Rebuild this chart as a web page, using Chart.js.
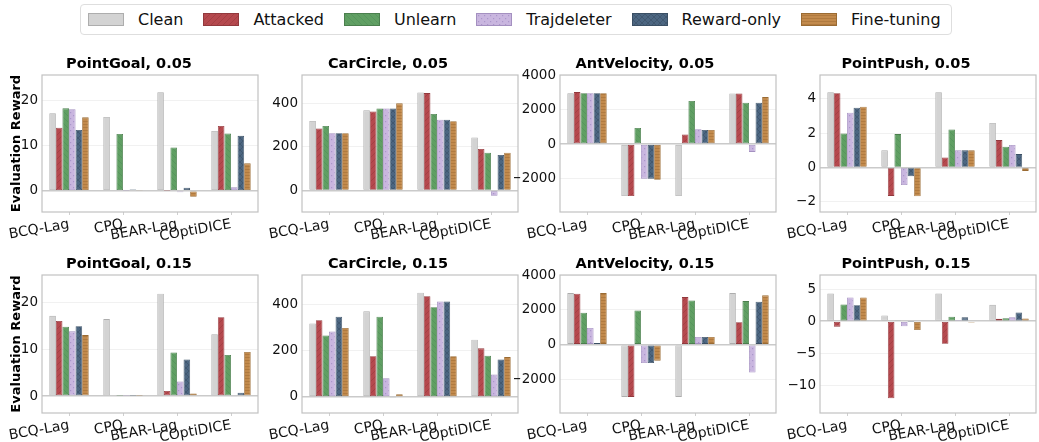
<!DOCTYPE html>
<html>
<head>
<meta charset="utf-8">
<script src="https://cdn.jsdelivr.net/npm/chart.js@4.4.1/dist/chart.umd.min.js"></script>
<style>
  html, body { margin: 0; padding: 0; background: #fff; }
  body { width: 1039px; height: 442px; position: relative; overflow: hidden; font-family: "DejaVu Sans", sans-serif; }
  canvas.panel { position: absolute; }
  #legend {
    position: absolute; left: 80px; top: 4px; width: 872px; height: 31px;
    box-sizing: border-box; border: 1px solid #dedede; border-radius: 4px;
    display: flex; align-items: center; padding-left: 7px; gap: 20px;
    font-size: 16px; color: #111;
  }
  #legend .item { display: flex; align-items: center; }
  #legend .sw { width: 36px; height: 13px; margin-right: 14px; box-sizing: border-box; }
</style>
</head>
<body>
<div id="legend"></div>
<script>
const categories = ["BCQ-Lag", "CPQ", "BEAR-Lag", "COptiDICE"];
const methods = ["Clean", "Attacked", "Unlearn", "Trajdeleter", "Reward-only", "Fine-tuning"];

// rows: Clean, Attacked, Unlearn, Trajdeleter, Reward-only, Fine-tuning
const pointGoal005 = [
  [17.2, 16.4, 21.9, 13.3],
  [14.0, 0.2, 0.05, 14.4],
  [18.3, 12.6, 9.6, 12.7],
  [18.1, 0.05, -0.3, 0.8],
  [13.5, 0.3, 0.7, 12.2],
  [16.3, 0.1, -1.3, 6.1],
];
const carCircle005 = [
  [319, 368, 450, 244],
  [285, 363, 447, 191],
  [296, 377, 351, 174],
  [263, 377, 325, -24],
  [263, 377, 325, 163],
  [263, 400, 318, 174],
];
const antVelocity005 = [
  [2950, -3000, -3000, 2930],
  [3010, -3000, 560, 2930],
  [2950, 930, 2500, 2400],
  [2950, -2000, 860, -450],
  [2950, -2000, 815, 2400],
  [2950, -2070, 815, 2720],
];
const pointPush005 = [
  [4.39, 1.0, 4.39, 2.6],
  [4.33, -1.66, 0.58, 1.6],
  [1.99, 1.95, 2.22, 1.21],
  [3.2, -1.03, 1.0, 1.31],
  [3.49, -0.51, 1.0, 0.78],
  [3.55, -1.68, 1.0, -0.2],
];
const pointGoal015 = [
  [17.1, 16.4, 21.8, 13.2],
  [16.0, 0.2, 1.1, 16.8],
  [14.8, 0.05, 9.3, 8.75],
  [13.8, 0.05, 3.1, -0.2],
  [14.9, 0.05, 7.8, 0.7],
  [13.0, 0.05, 0.57, 9.4],
];
const carCircle015 = [
  [319, 372, 453, 249],
  [333, 177, 438, 211],
  [267, 349, 390, 179],
  [284, 81, 415, 97],
  [349, -3, 415, 163],
  [300, 12, 177, 173],
];
const antVelocity015 = [
  [2960, -3000, -3000, 2960],
  [2920, -3000, 2730, 1290],
  [1830, 1960, 2540, 2500],
  [960, -1060, 440, -1600],
  [100, -1060, 440, 2460],
  [2960, -920, 440, 2830],
];
const pointPush015 = [
  [4.3, 0.9, 4.3, 2.55],
  [-0.85, -12.0, -3.5, 0.37],
  [2.6, 0.15, 0.7, 0.47],
  [3.7, -0.8, 0.2, 0.63],
  [2.5, -0.05, 0.6, 1.37],
  [3.7, -1.37, -0.2, 0.42],
];

const pointGoalTicks = [0, 10, 20];
const carCircleTicks = [0, 200, 400];
const antVelocityTicks = [-2000, 0, 2000, 4000];
const pointPush005Ticks = [-2, 0, 2, 4];
const pointPush015Ticks = [-10, -5, 0, 5];

const fills = ["#d3d3d3", "#b5494e", "#609f63", "#c9b6df", "#4c6681", "#c28a4c"];
const edges = ["#adadad", "#92393d", "#4b7f4e", "#a490c0", "#3a4f64", "#9a6b33"];
const inks = [null, "#9c3c41", "#52905a", "#ab96ca", "#3c5269", "#a8733a"];
const hatches = [null, "/", "\\", ".", "x", "-"];

function hatchCanvas(fill, ink, kind) {
  const s = 6;
  const c = document.createElement("canvas");
  c.width = s; c.height = s;
  const g = c.getContext("2d");
  g.fillStyle = fill;
  g.fillRect(0, 0, s, s);
  if (!kind) return c;
  g.strokeStyle = ink;
  g.fillStyle = ink;
  g.lineWidth = 0.7;
  const line = (x1, y1, x2, y2) => { g.beginPath(); g.moveTo(x1, y1); g.lineTo(x2, y2); g.stroke(); };
  if (kind === "/" || kind === "x") for (const k of [-s, 0, s]) line(k, s, k + s, 0);
  if (kind === "\\" || kind === "x") for (const k of [-s, 0, s]) line(k, 0, k + s, s);
  if (kind === "-") { line(0, 1.5, s, 1.5); line(0, 4.5, s, 4.5); }
  if (kind === ".") { g.fillRect(1, 1, 1.2, 1.2); g.fillRect(4, 4, 1.2, 1.2); }
  return c;
}

const tiles = fills.map((f, i) => hatchCanvas(f, inks[i], hatches[i]));
const patCtx = document.createElement("canvas").getContext("2d");
const patterns = tiles.map((t, i) => (hatches[i] ? patCtx.createPattern(t, "repeat") : fills[i]));

// legend
const legendEl = document.getElementById("legend");
methods.forEach((m, i) => {
  const item = document.createElement("div");
  item.className = "item";
  const sw = document.createElement("div");
  sw.className = "sw";
  sw.style.background = `url(${tiles[i].toDataURL()})`;
  sw.style.border = `1px solid ${edges[i]}`;
  const tx = document.createElement("span");
  tx.textContent = m;
  item.appendChild(sw);
  item.appendChild(tx);
  legendEl.appendChild(item);
});

const framePlugin = {
  id: "frame",
  afterDraw(chart) {
    const { ctx, chartArea: a } = chart;
    ctx.save();
    ctx.strokeStyle = "#c2c2c2";
    ctx.lineWidth = 1.2;
    ctx.strokeRect(a.left, a.top, a.right - a.left, a.bottom - a.top);
    ctx.restore();
  },
};

const FONT = "'DejaVu Sans', sans-serif";
const cols = [
  { plotL: 42, yW: 42 },
  { plotL: 302, yW: 44 },
  { plotL: 560, yW: 46 },
  { plotL: 820, yW: 44 },
];
const rows = [
  { canvasTop: 54, plotBottom: 212 },
  { canvasTop: 254, plotBottom: 413 },
];
const plotW = 216;
const xH = 29;

const panels = [
  { title: "PointGoal, 0.05", data: pointGoal005, min: -4.7, max: 25.7, ticks: pointGoalTicks },
  { title: "CarCircle, 0.05", data: carCircle005, min: -98, max: 530, ticks: carCircleTicks },
  { title: "AntVelocity, 0.05", data: antVelocity005, min: -3930, max: 4000, ticks: antVelocityTicks },
  { title: "PointPush, 0.05", data: pointPush005, min: -2.6, max: 5.4, ticks: pointPush005Ticks },
  { title: "PointGoal, 0.15", data: pointGoal015, min: -3.6, max: 25.8, ticks: pointGoalTicks },
  { title: "CarCircle, 0.15", data: carCircle015, min: -70, max: 530, ticks: carCircleTicks },
  { title: "AntVelocity, 0.15", data: antVelocity015, min: -3925, max: 4000, ticks: antVelocityTicks },
  { title: "PointPush, 0.15", data: pointPush015, min: -14.3, max: 7.2, ticks: pointPush015Ticks },
];

const fmt = (v) => (v < 0 ? "\u2212" + Math.abs(v) : String(v));

panels.forEach((p, idx) => {
  const col = cols[idx % 4];
  const row = rows[Math.floor(idx / 4)];
  const canvas = document.createElement("canvas");
  canvas.className = "panel";
  const w = col.yW + plotW + 2;
  const h = row.plotBottom - row.canvasTop + xH;
  canvas.width = w;
  canvas.height = h;
  canvas.style.left = (col.plotL - col.yW) + "px";
  canvas.style.top = row.canvasTop + "px";
  canvas.style.width = w + "px";
  canvas.style.height = h + "px";
  document.body.appendChild(canvas);

  const datasets = methods.map((m, i) => ({
    label: m,
    data: p.data[i],
    backgroundColor: patterns[i],
    borderColor: edges[i],
    borderWidth: 0.8,
    borderSkipped: false,
  }));

  new Chart(canvas, {
    type: "bar",
    data: { labels: categories, datasets },
    plugins: [framePlugin],
    options: {
      responsive: false,
      animation: false,
      devicePixelRatio: 1,
      layout: { padding: { left: 0, right: 2, top: 0, bottom: 0 } },
      datasets: { bar: { categoryPercentage: 0.73, barPercentage: 1.0 } },
      plugins: {
        legend: { display: false },
        tooltip: { enabled: false },
        title: {
          display: true,
          text: p.title,
          color: "#000",
          font: { family: FONT, size: 14.5, weight: "bold", lineHeight: 1.2 },
          padding: { top: 2, bottom: 1.6 },
        },
      },
      scales: {
        x: {
          offset: true,
          border: { display: false },
          grid: { display: true, drawOnChartArea: false, offset: false, tickLength: 3, color: "#cfcfcf" },
          ticks: {
            color: "#111",
            font: { family: FONT, size: 14 },
            minRotation: 10,
            maxRotation: 10,
            autoSkip: false,
            padding: 1,
          },
          afterFit: (s) => { s.height = xH; },
        },
        y: {
          min: p.min,
          max: p.max,
          border: { display: false },
          grid: {
            drawTicks: false,
            color: (c) => (c.tick && c.tick.value === 0 ? "#cacaca" : "#f1f1f1"),
            lineWidth: (c) => (c.tick && c.tick.value === 0 ? 1.5 : 1),
          },
          ticks: {
            color: "#111",
            font: { family: FONT, size: 13.5 },
            padding: 4,
            callback: (v) => fmt(v),
          },
          afterBuildTicks: (s) => { s.ticks = p.ticks.map((v) => ({ value: v })); },
          title: {
            display: idx % 4 === 0,
            text: "Evaluation Reward",
            color: "#000",
            font: { family: FONT, size: 13, weight: "bold", lineHeight: 1.2 },
            padding: { top: 9, bottom: 0 },
          },
          afterFit: (s) => { s.width = col.yW; },
        },
      },
    },
  });
});
</script>
</body>
</html>
